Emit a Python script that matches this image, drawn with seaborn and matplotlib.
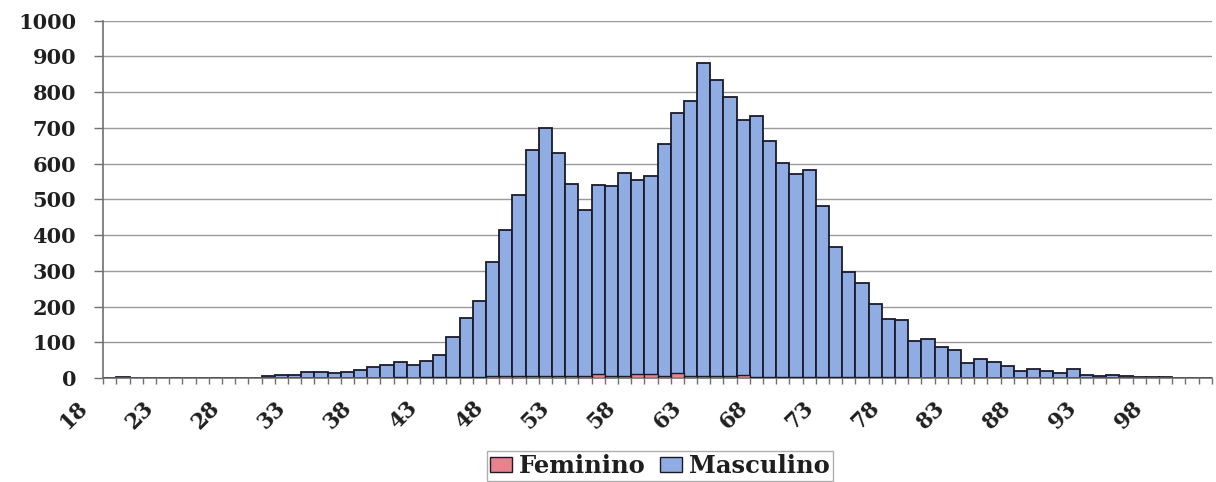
import numpy as np
import pandas as pd
import matplotlib
matplotlib.use("Agg")
import matplotlib.pyplot as plt
import matplotlib.transforms as mtransforms
from matplotlib.patches import Patch
import seaborn as sns

# ---- data ----
ages = list(range(18, 102))
feminino = [0, 0, 0, 0, 0, 0, 0, 0, 0, 0,
            0, 0, 0, 0, 0, 0, 0, 0, 0, 0,
            1, 1, 2, 1, 2, 2, 3, 3, 4, 5,
            5, 6, 7, 6, 5, 5, 7, 11, 7, 5,
            13, 13, 7, 15, 7, 5, 7, 5, 9, 3,
            3, 3, 3, 4, 3, 2, 2, 2, 2, 2,
            2, 1, 1, 1, 1, 1, 1, 1, 1, 1,
            1, 0, 0, 0, 0, 0, 0, 0, 0, 0,
            0, 0, 0, 0]
masculino = [0, 4, 0, 0, 0, 0, 0, 0, 0, 0,
             0, 0, 5, 8, 9, 17, 17, 14, 17, 23,
             30, 35, 43, 36, 46, 63, 113, 164, 213, 320,
             409, 506, 630, 694, 624, 539, 463, 529, 530, 568,
             541, 553, 647, 728, 768, 878, 827, 781, 713, 730,
             660, 598, 567, 579, 479, 366, 296, 265, 206, 163,
             161, 103, 110, 87, 78, 42, 53, 44, 32, 20,
             24, 21, 14, 27, 8, 6, 8, 5, 4, 3,
             2, 1, 0, 0]
label_ages = list(range(18, 102, 5))
y_ticks = list(range(0, 1001, 100))
series_names = ["Feminino", "Masculino"]

BLUE = "#8FADE3"
PINK = "#E8838D"
EDGE = "#1a1a2a"

df = pd.DataFrame({"idade": ages, "Feminino": feminino, "Masculino": masculino})
df["topo"] = df["Feminino"] + df["Masculino"]  # stacked top

sns.set_theme(style="white")
plt.rcParams["font.family"] = ["DejaVu Serif"]

fig = plt.figure(figsize=(12.16, 4.82), dpi=100)
ax = fig.add_axes([103.3 / 1216, 1 - 378.2 / 482, (1211.7 - 103.3) / 1216, (378.2 - 20.7) / 482])

sns.barplot(data=df, x="idade", y="topo", color=BLUE, saturation=1, width=1,
            edgecolor=EDGE, linewidth=1.3, ax=ax, zorder=2)
sns.barplot(data=df, x="idade", y="Feminino", color=PINK, saturation=1, width=1,
            edgecolor=EDGE, linewidth=1.0, ax=ax, zorder=3)

n = len(ages)
ax.set_xlim(-0.5, n - 0.5)
ax.set_ylim(0, 1000)
ax.set_xlabel("")
ax.set_ylabel("")

# y axis
ax.set_yticks(y_ticks)
ax.set_yticklabels([str(v) for v in y_ticks], fontweight="bold")
ax.tick_params(axis="y", which="major", left=True, length=6.5, width=1, color="#707070",
               pad=13, labelsize=15, labelcolor="#1f1f1f")
ax.yaxis.grid(True, color="#999999", linewidth=1.0)
ax.xaxis.grid(False)
ax.set_axisbelow(True)

# x axis: tick marks between categories, labels every 5 categories
ax.set_xticks(np.arange(-0.5, n, 1.0))
ax.set_xticklabels([])
label_pos = [ages.index(a) for a in label_ages]
ax.set_xticks(label_pos, minor=True)
ax.set_xticklabels([str(a) for a in label_ages], minor=True, fontweight="bold")
ax.tick_params(axis="x", which="major", bottom=True, length=4.5, width=1, color="#707070")
ax.tick_params(axis="x", which="minor", bottom=True, length=0, pad=0, labelsize=15.5,
               labelcolor="#1f1f1f")
offset = mtransforms.ScaledTranslation(-36 / 100, -37 / 100, fig.dpi_scale_trans)
for lab in ax.get_xticklabels(minor=True):
    lab.set_rotation(45)
    lab.set_ha("center")
    lab.set_va("center")
    lab.set_rotation_mode("anchor")
    lab.set_transform(lab.get_transform() + offset)

for side in ["top", "right"]:
    ax.spines[side].set_visible(False)
for side in ["left", "bottom"]:
    ax.spines[side].set_color("#707070")
    ax.spines[side].set_linewidth(1.2)

handles = [Patch(facecolor=PINK, edgecolor=EDGE, linewidth=1.0),
           Patch(facecolor=BLUE, edgecolor=EDGE, linewidth=1.0)]
leg = fig.legend(handles, series_names, loc="center", bbox_to_anchor=(660 / 1216, 1 - 466 / 482),
                 ncol=2, frameon=True, fancybox=False, edgecolor="#9a9a9a",
                 prop={"size": 17.5, "weight": "bold"},
                 handlelength=0.9, handleheight=0.6, handletextpad=0.3, columnspacing=0.6,
                 borderpad=0.12, borderaxespad=0)
leg.get_frame().set_linewidth(1.0)
for t in leg.get_texts():
    t.set_color("#1f1f1f")

fig.savefig("out.png", dpi=100)
